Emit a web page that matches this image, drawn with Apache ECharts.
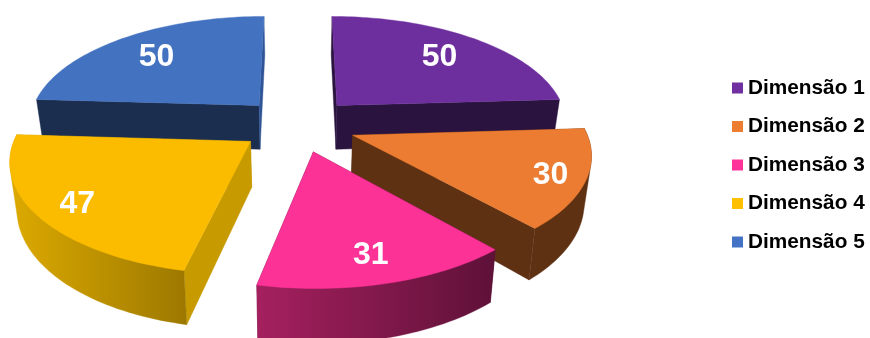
<!DOCTYPE html>
<html>
<head>
<meta charset="utf-8">
<style>html,body{margin:0;padding:0;background:#fff}#chart{width:870px;height:338px}</style>
<script src="https://cdn.jsdelivr.net/npm/echarts@6/dist/echarts.min.js"></script>
</head>
<body>
<div id="chart"></div>
<script>
// Chart content
const dimensionNames = ['Dimensão 1', 'Dimensão 2', 'Dimensão 3', 'Dimensão 4', 'Dimensão 5'];
const dimensionValues = [50, 30, 31, 47, 50];

// Legend swatches, then slice colours: top face, radial walls and outer wall gradient ends
const legendColors = ['#7030A0', '#ED7D31', '#FF3399', '#FFC000', '#4472C4'];
const topColors = ['#6E2F9E', '#EB7C31', '#FD3297', '#FBBC00', '#4272C0'];
const startWallColors = ['#2B133F', '#5F3113', '#64123C', '#C79A00', '#1B2E50'];
const endWallColors = ['#2B133F', '#5F3113', '#64123C', '#C79A00', '#2F5597'];
const outerWallLeft = ['#2B133F', '#5F3113', '#A5205F', '#DDAA00', '#1B2E50'];
const outerWallRight = ['#2B133F', '#5F3113', '#5E1138', '#9C7800', '#1B2E50'];

// How far along its radius each value label sits
const labelRadius = [0.735, 0.855, 0.8, 0.83, 0.735];
// Painter's order, back slices first
const paintOrder = [2, 4, 6, 5, 3];

// Perspective model of the exploded disc
const view = {
  cx: 298, cy: 124.7, scaleX: 231.4, scaleY: 107.5, perspective: 0.148,
  explode: 0.252, depth: 45, baseShrink: 0.975, arcStep: 1.5, labelDrop: 2
};

const total = dimensionValues.reduce((a, b) => a + b, 0);

// Project a disc point (right, toward the viewer) at top or base height
function project(wx, wy, atBase) {
  const s = 1 / (1 - view.perspective * wy);
  let x = view.scaleX * wx * s;
  let y = view.cy + view.scaleY * wy * s;
  if (atBase) {
    x *= view.baseShrink;
    y += view.depth * s;
  }
  return [view.cx + x, y];
}

// Convex outline of a point set (monotone chain)
function convexHull(points) {
  const pts = points.slice().sort((a, b) => a[0] - b[0] || a[1] - b[1]);
  const cross = (o, a, b) => (a[0] - o[0]) * (b[1] - o[1]) - (a[1] - o[1]) * (b[0] - o[0]);
  const half = list => {
    const out = [];
    list.forEach(p => {
      while (out.length > 1 && cross(out[out.length - 2], out[out.length - 1], p) <= 0) out.pop();
      out.push(p);
    });
    out.pop();
    return out;
  };
  return half(pts).concat(half(pts.slice().reverse()));
}

function sliceAngles(index) {
  let before = 0;
  for (let i = 0; i < index; i++) before += dimensionValues[i];
  const start = before / total * Math.PI * 2;
  const end = (before + dimensionValues[index]) / total * Math.PI * 2;
  return { start, end, mid: (start + end) / 2 };
}

function renderSlice(params, api) {
  const i = params.seriesIndex;
  const { start, end, mid } = sliceAngles(i);
  const span = end - start;
  // The value sets the span; the explode offset follows the slice's mid angle
  const apex = [Math.sin(mid) * view.explode, -Math.cos(mid) * view.explode];
  const world = (a, r) => [apex[0] + Math.sin(a) * r, apex[1] - Math.cos(a) * r];

  const steps = Math.max(2, Math.round(span * 180 / Math.PI / view.arcStep));
  const topArc = [], baseArc = [];
  for (let k = 0; k <= steps; k++) {
    const p = world(start + span * k / steps, 1);
    topArc.push(project(p[0], p[1], false));
    baseArc.push(project(p[0], p[1], true));
  }
  const apexTop = project(apex[0], apex[1], false);
  const apexBase = project(apex[0], apex[1], true);

  const poly = (points, fill) => ({
    type: 'polygon',
    shape: { points },
    style: { fill, stroke: fill, lineWidth: 0.4 }
  });

  const children = [];
  children.push(poly([apexTop, topArc[0], baseArc[0], apexBase], startWallColors[i]));
  children.push(poly([apexTop, topArc[steps], baseArc[steps], apexBase], endWallColors[i]));
  if (Math.cos(mid) < 0) {
    // The outer wall is the outline swept between the top and base arcs
    const wall = convexHull(topArc.concat(baseArc));
    children.push(poly(wall, {
      type: 'linear', x: 0, y: 0, x2: 1, y2: 0,
      colorStops: [
        { offset: 0, color: outerWallLeft[i] },
        { offset: 1, color: outerWallRight[i] }
      ]
    }));
  }
  children.push(poly([apexTop].concat(topArc), topColors[i]));

  const lp = world(mid, labelRadius[i]);
  const lxy = project(lp[0], lp[1], false);
  children.push({
    type: 'text',
    style: {
      x: lxy[0], y: lxy[1] + view.labelDrop, text: String(api.value(0)),
      fill: '#fff', font: 'bold 32px "Liberation Sans", Arial, sans-serif',
      align: 'center', verticalAlign: 'middle'
    }
  });
  return { type: 'group', children };
}

const chart = echarts.init(document.getElementById('chart'), null, { renderer: 'canvas' });
chart.setOption({
  animation: false,
  legend: {
    data: dimensionNames,
    orient: 'vertical',
    left: 732,
    top: 76.5,
    padding: 0,
    itemWidth: 11,
    itemHeight: 11,
    itemGap: 15.5,
    icon: 'rect',
    selectedMode: false,
    textStyle: {
      color: '#000',
      fontFamily: '"Liberation Sans", Arial, sans-serif',
      fontWeight: 'bold',
      fontSize: 20.8,
      lineHeight: 23,
      padding: 0
    }
  },
  series: dimensionNames.map((name, i) => ({
    type: 'custom',
    name,
    coordinateSystem: 'none',
    z: paintOrder[i],
    itemStyle: { color: legendColors[i] },
    data: [[dimensionValues[i]]],
    renderItem: renderSlice
  }))
});
</script>
</body>
</html>
